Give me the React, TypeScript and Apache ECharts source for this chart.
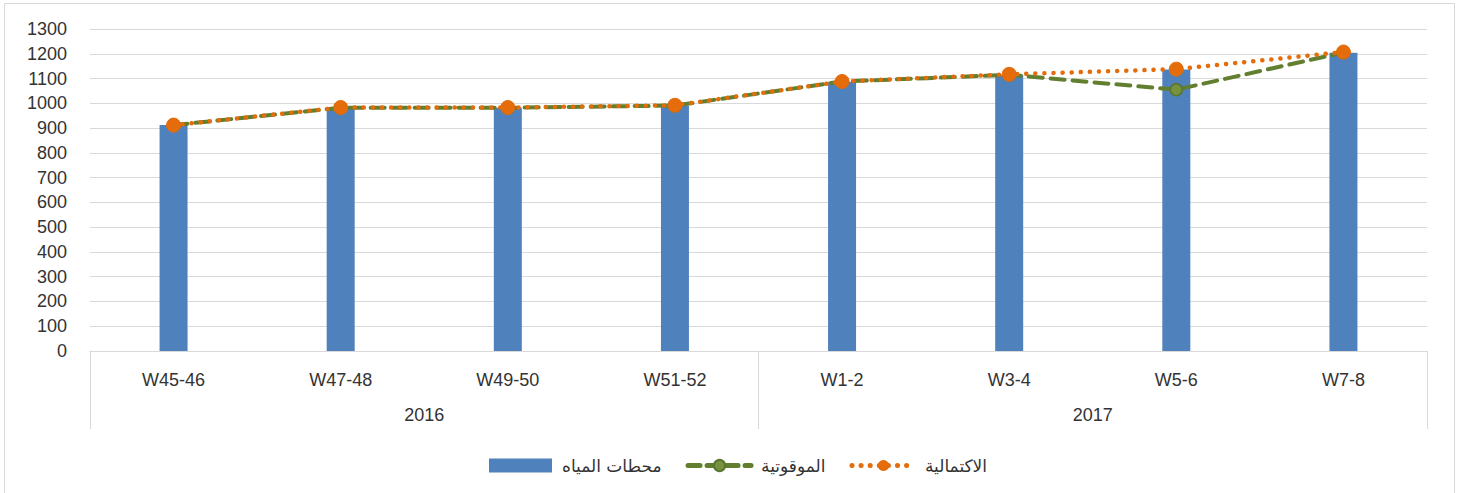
import React, { useEffect, useRef } from "react";
import * as echarts from "echarts";

const categories = ["W45-46", "W47-48", "W49-50", "W51-52", "W1-2", "W3-4", "W5-6", "W7-8"];
const years = ["2016", "2017"];
const stations = [912, 982, 982, 990, 1087, 1115, 1136, 1204];
const timely = [912, 982, 982, 991, 1088, 1115, 1055, 1205];
const completeness = [912, 983, 983, 992, 1088, 1117, 1138, 1207];
const names = ["محطات المياه", "الموقوتية", "الاكتمالية"];

const FONT = "'Liberation Sans', Arial, sans-serif";
const GREEN_LINE = "#617F2F";
const ORANGE = "#E46C0A";

export default function App() {
  const ref = useRef<HTMLDivElement>(null);
  useEffect(() => {
    document.body.style.margin = "0";
    const chart = echarts.init(ref.current!, null, { renderer: "svg" });
    chart.setOption({
      animation: false,
      backgroundColor: "#ffffff",
      textStyle: { fontFamily: FONT },
      graphic: [
        {
          type: "rect",
          shape: { x: 4.5, y: 3.5, width: 1450, height: 495 },
          style: { fill: "none", stroke: "#d9d9d9", lineWidth: 1 },
          silent: true,
        },
      ],
      grid: { left: 90, right: 31, top: 29, bottom: 142 },
      legend: {
        left: 484,
        top: 452,
        itemWidth: 63,
        itemHeight: 14,
        itemGap: 24,
        textStyle: { fontSize: 17, color: "#333333", fontFamily: "'DejaVu Sans', sans-serif", padding: [0, 0, 0, 5] },
        data: [
          { name: names[0], icon: "rect", itemStyle: { color: "#4F81BD" } },
          { name: names[1], lineStyle: { color: GREEN_LINE, width: 5, type: [12, 7] } },
          { name: names[2], lineStyle: { color: ORANGE, width: 5, type: [0.1, 9], cap: "round" } },
        ],
      },
      xAxis: [
        {
          type: "category",
          data: categories,
          position: "bottom",
          axisLine: { lineStyle: { color: "#d9d9d9", width: 1 } },
          axisTick: { show: false },
          axisLabel: { fontSize: 18, color: "#333333", margin: 20, interval: 0 },
        },
        {
          type: "category",
          data: years,
          position: "bottom",
          axisLine: { show: false },
          axisTick: { show: true, length: 78, interval: 0, lineStyle: { color: "#d9d9d9", width: 1 } },
          axisLabel: { fontSize: 18, color: "#333333", margin: 55, interval: 0 },
          splitLine: { show: false },
        },
      ],
      yAxis: {
        type: "value",
        min: 0,
        max: 1300,
        interval: 100,
        axisLine: { show: false },
        axisTick: { show: false },
        axisLabel: { fontSize: 18, color: "#333333", margin: 23, formatter: (v: number) => String(v) },
        splitLine: { lineStyle: { color: "#d9d9d9", width: 1 } },
      },
      series: [
        {
          name: names[0],
          type: "bar",
          data: stations,
          barWidth: 28,
          itemStyle: { color: "#4F81BD" },
          z: 1,
        },
        {
          name: names[1],
          type: "line",
          data: timely,
          symbol: "circle",
          symbolSize: 12,
          itemStyle: { color: "#76923C", borderColor: "#5A7530", borderWidth: 1.5 },
          lineStyle: { color: GREEN_LINE, width: 4, type: [14, 8], cap: "round" },
          z: 3,
        },
        {
          name: names[2],
          type: "line",
          data: completeness,
          symbol: "circle",
          symbolSize: 14,
          itemStyle: { color: ORANGE, borderColor: ORANGE },
          lineStyle: { color: ORANGE, width: 4.5, type: [0.1, 9], cap: "round" },
          z: 4,
        },
      ],
    });
    return () => chart.dispose();
  }, []);
  return <div ref={ref} style={{ width: 1458, height: 493, position: "absolute", left: 0, top: 0 }} />;
}
